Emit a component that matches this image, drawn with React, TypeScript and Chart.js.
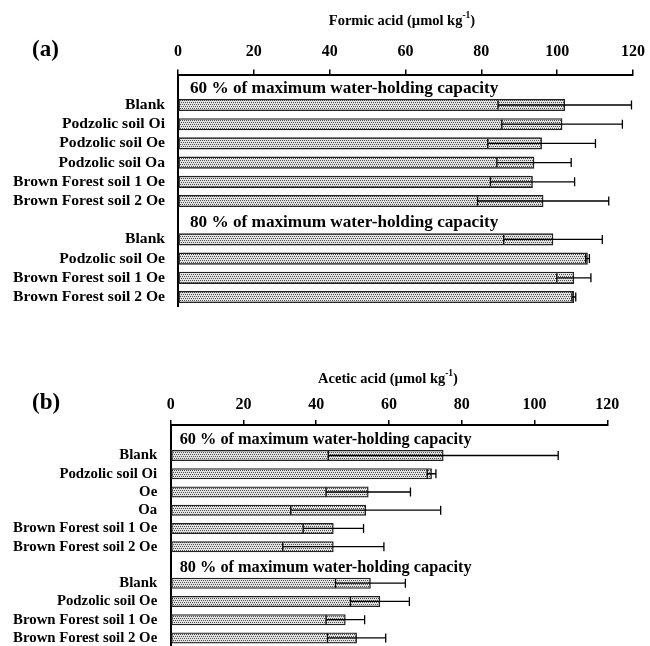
import React, { useEffect, useRef } from 'react';
import { Chart, registerables } from 'chart.js';

Chart.register(...registerables);

const FONT = '"Liberation Serif", "Times New Roman", serif';

// Row labels (rows 0 and 7 are the group-header rows)
const formicRows = [
  '', 'Blank', 'Podzolic soil Oi', 'Podzolic soil Oe', 'Podzolic soil Oa',
  'Brown Forest soil 1 Oe', 'Brown Forest soil 2 Oe',
  '', 'Blank', 'Podzolic soil Oe', 'Brown Forest soil 1 Oe', 'Brown Forest soil 2 Oe',
];
const aceticRows = [
  '', 'Blank', 'Podzolic soil Oi', 'Oe', 'Oa',
  'Brown Forest soil 1 Oe', 'Brown Forest soil 2 Oe',
  '', 'Blank', 'Podzolic soil Oe', 'Brown Forest soil 1 Oe', 'Brown Forest soil 2 Oe',
];
const headerRows = [0, 7];
const headerTexts = [
  '60 % of maximum water-holding capacity',
  '80 % of maximum water-holding capacity',
];

// Means and standard deviations (null = header row)
const formicMean = [null, 102.0, 101.3, 95.9, 93.9, 93.5, 96.3, null, 98.9, 108.0, 104.4, 104.4];
const formicSD = [null, 17.6, 15.9, 14.2, 9.8, 11.1, 17.3, null, 13.0, 0.5, 4.5, 0.5];
const aceticMean = [null, 74.9, 71.7, 54.3, 53.6, 44.7, 44.7, null, 54.9, 57.5, 48.0, 51.1];
const aceticSD = [null, 31.6, 1.2, 11.6, 20.6, 8.3, 13.9, null, 9.6, 8.1, 5.3, 8.0];

const xMin = 0;
const xMax = 120;
const xStep = 20;

function makePattern(): CanvasPattern | string {
  const c = document.createElement('canvas');
  c.width = 4;
  c.height = 4;
  const g = c.getContext('2d');
  if (!g) return '#cccccc';
  g.fillStyle = '#e2e2e2';
  g.fillRect(0, 0, 4, 4);
  g.fillStyle = '#505050';
  g.fillRect(0, 0, 1, 1);
  g.fillRect(2, 0, 1, 1);
  g.fillRect(1, 2, 1, 1);
  g.fillRect(3, 2, 1, 1);
  const p = g.createPattern(c, 'repeat');
  return p || '#cccccc';
}

type PanelProps = {
  top: number;
  height: number;
  rows: string[];
  means: (number | null)[];
  sds: (number | null)[];
  plotLeft: number;
  plotRight: number;
  plotTop: number;
  padBottom: number;
  yMin: number;
  yMax: number;
  barThickness: number;
  headerSize: number;
  headerIndent: number;
  labelSize: number;
  letter: string;
  letterY: number;
  titleMain: string;
  titleY: number;
  titleX: number;
  tickPad: number;
  labelPad: number;
};

function Panel(p: PanelProps) {
  const ref = useRef<HTMLCanvasElement | null>(null);

  useEffect(() => {
    if (!ref.current) return;
    const data: any[] = [];
    p.means.forEach((m, i) => {
      if (m !== null) data.push({ x: m, y: i, sd: p.sds[i] });
    });

    const decor = {
      id: 'decor',
      afterDatasetsDraw(chart: any) {
        const ctx = chart.ctx as CanvasRenderingContext2D;
        const xs = chart.scales.x;
        const ys = chart.scales.y;
        const meta = chart.getDatasetMeta(0);
        const ds = chart.data.datasets[0].data as any[];
        ctx.save();
        // error bars
        ctx.strokeStyle = '#000';
        ctx.lineWidth = 1.3;
        meta.data.forEach((el: any, i: number) => {
          const d = ds[i];
          const y = el.y;
          const lo = xs.getPixelForValue(d.x - d.sd);
          const hi = xs.getPixelForValue(d.x + d.sd);
          const cap = 4.5;
          ctx.beginPath();
          ctx.moveTo(lo, y);
          ctx.lineTo(hi, y);
          ctx.moveTo(lo, y - cap);
          ctx.lineTo(lo, y + cap);
          ctx.moveTo(hi, y - cap);
          ctx.lineTo(hi, y + cap);
          ctx.stroke();
        });
        // group headers
        ctx.fillStyle = '#000';
        ctx.textAlign = 'left';
        ctx.textBaseline = 'middle';
        ctx.font = `bold ${p.headerSize}px ${FONT}`;
        headerRows.forEach((r, k) => {
          ctx.fillText(headerTexts[k], chart.chartArea.left + p.headerIndent, ys.getPixelForValue(r) + 2.5);
        });
        // panel letter
        ctx.font = `bold 23px ${FONT}`;
        ctx.fillText(p.letter, 32, p.letterY);
        // axis title with superscript
        const mainSize = 14.5;
        const supSize = 9.5;
        const part1 = p.titleMain + ' (\u00b5mol kg';
        const sup = '-1';
        const part3 = ')';
        ctx.font = `bold ${mainSize}px ${FONT}`;
        const w1 = ctx.measureText(part1).width;
        const w3 = ctx.measureText(part3).width;
        ctx.font = `bold ${supSize}px ${FONT}`;
        const w2 = ctx.measureText(sup).width;
        let x = p.titleX - (w1 + w2 + w3) / 2;
        ctx.textBaseline = 'alphabetic';
        const base = p.titleY + 5;
        ctx.font = `bold ${mainSize}px ${FONT}`;
        ctx.fillText(part1, x, base);
        x += w1;
        ctx.font = `bold ${supSize}px ${FONT}`;
        ctx.fillText(sup, x, base - 7);
        x += w2;
        ctx.font = `bold ${mainSize}px ${FONT}`;
        ctx.fillText(part3, x, base);
        ctx.restore();
      },
    };

    const chart = new Chart(ref.current, {
      type: 'bar',
      data: {
        datasets: [
          {
            data,
            backgroundColor: makePattern() as any,
            borderColor: '#222',
            borderWidth: 1.4,
            borderSkipped: false,
            barThickness: p.barThickness,
          } as any,
        ],
      },
      options: {
        indexAxis: 'y',
        responsive: false,
        animation: false,
        events: [],
        layout: {
          padding: { left: 0, top: 0, right: 650 - p.plotRight, bottom: p.padBottom },
        },
        plugins: {
          legend: { display: false },
          tooltip: { enabled: false },
          title: { display: false },
        },
        scales: {
          x: {
            type: 'linear',
            position: 'top',
            min: xMin,
            max: xMax,
            offset: false,
            ticks: {
              stepSize: xStep,
              color: '#000',
              padding: p.tickPad,
              font: { family: FONT, size: 16, weight: 'bold' },
            },
            grid: {
              display: true,
              drawOnChartArea: false,
              drawTicks: true,
              offset: false,
              tickLength: 5,
              color: '#000',
              lineWidth: 1.5,
            },
            border: { display: true, color: '#000', width: 2 },
            afterFit: (scale: any) => {
              scale.height = p.plotTop;
              scale.paddingLeft = 0;
              scale.paddingRight = 0;
              scale.paddingTop = 0;
              scale.paddingBottom = 0;
            },
          },
          y: {
            type: 'linear',
            reverse: true,
            offset: false,
            min: p.yMin,
            max: p.yMax,
            afterBuildTicks: (scale: any) => {
              scale.ticks = p.rows.map((_, i) => ({ value: i }));
            },
            ticks: {
              autoSkip: false,
              color: '#000',
              padding: p.labelPad,
              font: { family: FONT, size: p.labelSize, weight: 'bold' },
              callback: (v: any) => p.rows[Math.round(Number(v))] ?? '',
            },
            grid: { display: false, drawTicks: false, offset: false },
            border: { display: true, color: '#000', width: 2 },
            afterFit: (scale: any) => {
              scale.width = p.plotLeft;
              scale.paddingLeft = 0;
              scale.paddingRight = 0;
              scale.paddingTop = 0;
              scale.paddingBottom = 0;
            },
          },
        },
      } as any,
      plugins: [decor],
    });
    return () => chart.destroy();
  }, []);

  return (
    <canvas
      ref={ref}
      width={650}
      height={p.height}
      style={{ position: 'absolute', left: 0, top: p.top, width: 650, height: p.height }}
    />
  );
}

export default function App() {
  return (
    <div style={{ position: 'absolute', left: 0, top: 0, width: 650, height: 646, background: '#fff', overflow: 'hidden' }}>
      <Panel
        top={0}
        height={310}
        rows={formicRows}
        means={formicMean}
        sds={formicSD}
        plotLeft={178}
        plotRight={633}
        plotTop={74.5}
        padBottom={3.4}
        yMin={-0.59}
        yMax={11.5}
        barThickness={11.5}
        headerSize={17.2}
        headerIndent={12}
        labelSize={15.6}
        letter="(a)"
        letterY={50}
        titleMain="Formic acid"
        titleX={402}
        titleY={20}
        tickPad={8}
        labelPad={13}
      />
      <Panel
        top={330}
        height={316}
        rows={aceticRows}
        means={aceticMean}
        sds={aceticSD}
        plotLeft={170.7}
        plotRight={607.3}
        plotTop={95}
        padBottom={0}
        yMin={-0.67}
        yMax={11.44}
        barThickness={10.5}
        headerSize={16.3}
        headerIndent={9}
        labelSize={14.8}
        letter="(b)"
        letterY={73}
        titleMain="Acetic acid"
        titleX={388}
        titleY={48}
        tickPad={5.5}
        labelPad={13.5}
      />
    </div>
  );
}
